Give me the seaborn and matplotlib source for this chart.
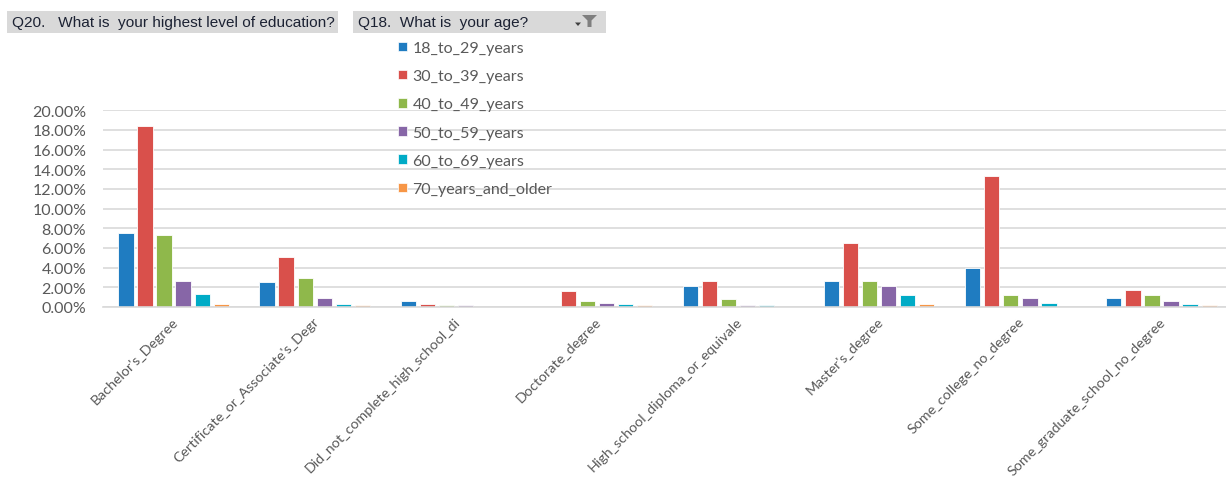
import matplotlib
matplotlib.use("Agg")
import matplotlib.pyplot as plt
import matplotlib.transforms as mtrans
import seaborn as sns
import pandas as pd
from matplotlib.patches import Patch, Rectangle, Polygon

categories = [
    "Bachelor's_Degree",
    "Certificate_or_Associate's_Degr",
    "Did_not_complete_high_school_di",
    "Doctorate_degree",
    "High_school_diploma_or_equivale",
    "Master's_degree",
    "Some_college_no_degree",
    "Some_graduate_school_no_degree",
]
ages = ["18_to_29_years", "30_to_39_years", "40_to_49_years",
        "50_to_59_years", "60_to_69_years", "70_years_and_older"]

v_18_29 = [7.49, 2.50, 0.57, 0.00, 2.10, 2.60, 4.00, 0.92]
v_30_39 = [18.41, 5.05, 0.30, 1.59, 2.60, 6.47, 13.29, 1.69]
v_40_49 = [7.36, 2.98, 0.17, 0.57, 0.81, 2.60, 1.18, 1.18]
v_50_59 = [2.60, 0.92, 0.17, 0.44, 0.17, 2.10, 0.92, 0.57]
v_60_69 = [1.32, 0.30, 0.00, 0.30, 0.17, 1.18, 0.44, 0.30]
v_70_up = [0.30, 0.17, 0.00, 0.17, 0.00, 0.30, 0.00, 0.17]

yticks = [0, 2, 4, 6, 8, 10, 12, 14, 16, 18, 20]
colors = ["#1f7cc1", "#d9504b", "#8fb84b", "#8766a7", "#00abc6", "#f79646"]

series = [v_18_29, v_30_39, v_40_49, v_50_59, v_60_69, v_70_up]
rows = []
for age, vals in zip(ages, series):
    for cat, v in zip(categories, vals):
        rows.append({"edu": cat, "age": age, "pct": v})
df = pd.DataFrame(rows)

sns.set_theme(style="white")
plt.rcParams["font.family"] = ["Lato", "DejaVu Sans"]

W, H = 1226, 481
fig = plt.figure(figsize=(W / 100, H / 100), dpi=100)
ax = fig.add_axes([103 / W, (H - 308) / H, 1 - 103 / W, (308 - 111.3) / H])

sns.barplot(data=df, x="edu", y="pct", hue="age", order=categories,
            hue_order=ages, palette=colors, saturation=1, width=0.81,
            gap=0.2, edgecolor="white", linewidth=0.6, ax=ax, legend=False,
            errorbar=None)

ax.set_xlim(-0.5, 7.457)
ax.set_ylim(0, 20)
ax.set_yticks(yticks)
ax.set_yticklabels([f"{t:.2f}%" for t in yticks])
ax.yaxis.grid(True, color="#d9d9d9", linewidth=1.2)
ax.set_axisbelow(True)
for s in ["top", "right", "left"]:
    ax.spines[s].set_visible(False)
ax.spines["bottom"].set_color("#d9d9d9")
ax.spines["bottom"].set_linewidth(1.2)
ax.set_xlabel("")
ax.set_ylabel("")
ax.tick_params(axis="y", length=0, pad=12, labelsize=11.5, labelcolor="#595959")
ax.tick_params(axis="x", length=0, labelbottom=False)

# rotated category labels
blend = mtrans.blended_transform_factory(ax.transData, ax.transAxes)
offset = mtrans.ScaledTranslation(-2 / 100, -8 / 100, fig.dpi_scale_trans)
for i, cat in enumerate(categories):
    ax.text(i, 0, cat, transform=blend + offset, rotation=45,
            rotation_mode="anchor", ha="right", va="top",
            fontsize=10.3, color="#595959")

handles = [Patch(facecolor=c, edgecolor="white", linewidth=0.5) for c in colors]
fig.legend(handles, ages, loc="upper left",
           bbox_to_anchor=(398 / W, 1 - 42 / H), frameon=False,
           fontsize=11.5, labelcolor="#595959", handlelength=0.55,
           handleheight=0.55, handletextpad=0.35, labelspacing=0.89,
           borderaxespad=0, borderpad=0)

# Field buttons
def button(x0, x1, text):
    fig.patches.append(Rectangle((x0 / W, 1 - 33.5 / H), (x1 - x0) / W,
                                 22 / H, transform=fig.transFigure,
                                 facecolor="#d9d9d9", edgecolor="none",
                                 zorder=0))
    fig.text((x0 + 5) / W, 1 - 22.5 / H, text, fontsize=11.1,
             family=["Liberation Sans", "DejaVu Sans"], color="#1c2233",
             va="center", ha="left")

button(7, 338, "Q20.   What is  your highest level of education?")
button(353, 606, "Q18.  What is  your age?")
# drop-down arrow and funnel icon
fig.patches.append(Polygon([[575 / W, 1 - 23.5 / H], [581 / W, 1 - 23.5 / H],
                            [578 / W, 1 - 27 / H]], closed=True,
                           transform=fig.transFigure, facecolor="#404040",
                           edgecolor="none"))
fig.patches.append(Polygon([[582 / W, 1 - 16 / H], [597 / W, 1 - 16 / H],
                            [591.5 / W, 1 - 21.5 / H], [591.5 / W, 1 - 28 / H],
                            [587.5 / W, 1 - 28 / H], [587.5 / W, 1 - 21.5 / H]],
                           closed=True, transform=fig.transFigure,
                           facecolor="#7f7f7f", edgecolor="none"))

fig.savefig("out.png", dpi=100)
